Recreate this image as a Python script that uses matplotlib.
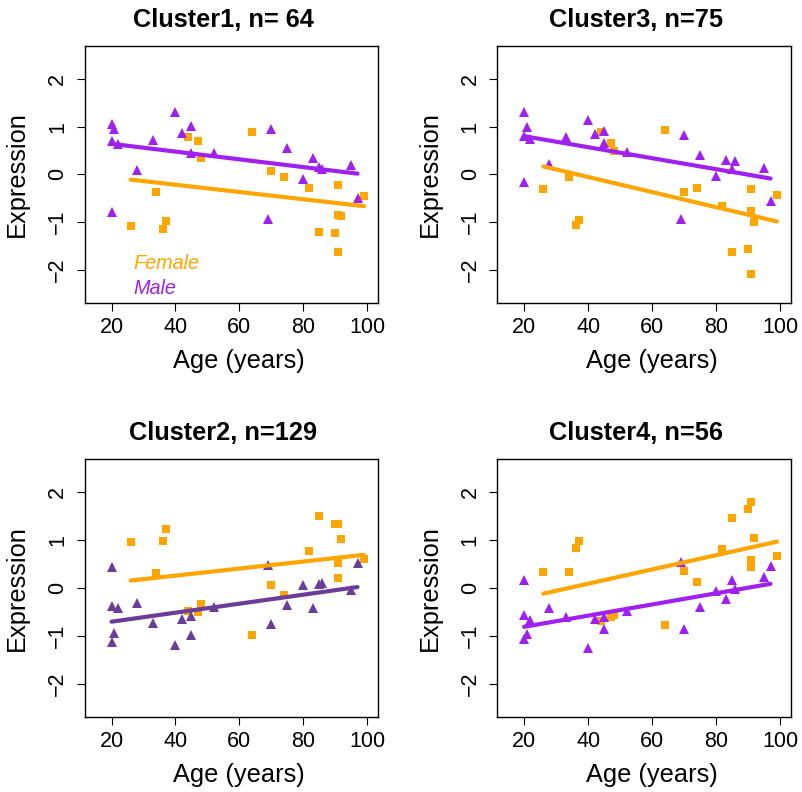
import matplotlib
matplotlib.use("Agg")
import matplotlib.pyplot as plt
import numpy as np

plt.rcParams['font.family'] = ['Liberation Sans', 'DejaVu Sans']

# ---- data ----
female_age = [26.0, 33.9, 36.2, 37.0, 44.0, 47.1, 48.0, 63.9, 69.9, 73.9, 81.9, 84.9,
              89.9, 90.9, 90.9, 90.9, 91.9, 99.0]
male_age = [20.0, 20.0, 20.0, 20.9, 21.9, 27.9, 33.0, 40.0, 42.0, 45.0, 45.0, 52.0,
            68.9, 70.0, 75.0, 80.0, 83.0, 85.0, 86.0, 95.0, 97.0]

c1_female = [-1.08, -0.37, -1.15, -0.97, 0.78, 0.69, 0.35, 0.88, 0.07, -0.06, -0.28, -1.22,
             -1.24, -0.22, -0.85, -1.62, -0.87, -0.45]
c1_male = [1.06, 0.69, -0.80, 0.95, 0.64, 0.10, 0.72, 1.31, 0.875, 1.02, 0.44, 0.44,
           -0.93, 0.95, 0.56, -0.10, 0.34, 0.15, 0.12, 0.20, -0.50]

c3_female = [-0.31, -0.05, -1.06, -0.95, 0.88, 0.65, 0.49, 0.94, -0.37, -0.28, -0.67, -1.64,
             -1.56, -0.31, -0.77, -2.10, -0.99, -0.44]
c3_male = [1.30, 0.81, -0.17, 1.00, 0.74, 0.21, 0.79, 1.14, 0.85, 0.92, 0.65, 0.47,
           -0.94, 0.83, 0.41, -0.04, 0.31, 0.11, 0.27, 0.14, -0.56]

c2_female = [0.96, 0.31, 0.98, 1.23, -0.48, -0.51, -0.33, -0.98, 0.07, -0.15, 0.77, 1.50,
             1.33, 1.34, 0.53, 0.21, 1.02, 0.60]
c2_male = [0.45, -0.375, -1.125, -0.95, -0.42, -0.31, -0.73, -1.19, -0.64, -0.58, -0.98, -0.39,
           0.49, -0.76, -0.35, 0.07, -0.42, 0.08, 0.11, -0.035, 0.52]

c4_female = [0.33, 0.33, 0.83, 0.98, -0.69, -0.60, -0.56, -0.78, 0.35, 0.125, 0.82, 1.46,
             1.65, 1.79, 0.59, 0.43, 1.04, 0.68]
c4_male = [0.17, -0.56, -1.07, -0.96, -0.67, -0.42, -0.60, -1.26, -0.65, -0.61, -0.86, -0.49,
           0.55, -0.85, -0.40, -0.06, -0.22, 0.17, -0.03, 0.22, 0.46]

# fitted lines (intercept, slope)
c1_fit_female = (0.087, -0.00762)
c1_fit_male = (0.803, -0.00813)
c3_fit_female = (0.578, -0.01583)
c3_fit_male = (1.031, -0.01153)
c2_fit_female = (-0.036, 0.00737)
c2_fit_male = (-0.893, 0.00941)
c4_fit_female = (-0.506, 0.01491)
c4_fit_male = (-1.046, 0.01169)

titles = ["Cluster1, n= 64", "Cluster3, n=75", "Cluster2, n=129", "Cluster4, n=56"]
x_ticks = [20, 40, 60, 80, 100]
y_ticks = [-2, -1, 0, 1, 2]

ORANGE = '#FFA500'
PURPLE = '#A020F0'
DARKPURPLE = '#6A3D9A'

W, H = 802, 792
fig = plt.figure(figsize=(W / 100, H / 100), dpi=100)

def fpos(left, top, right, bottom):
    return [left / W, 1 - bottom / H, (right - left) / W, (bottom - top) / H]

panels = [
    (fpos(84.7, 45.7, 378.0, 303.0), titles[0], c1_female, c1_male, c1_fit_female, c1_fit_male, PURPLE, True),
    (fpos(497.3, 45.7, 791.0, 303.0), titles[1], c3_female, c3_male, c3_fit_female, c3_fit_male, PURPLE, False),
    (fpos(84.7, 459.0, 378.0, 717.0), titles[2], c2_female, c2_male, c2_fit_female, c2_fit_male, DARKPURPLE, False),
    (fpos(497.3, 459.0, 791.0, 717.0), titles[3], c4_female, c4_male, c4_fit_female, c4_fit_male, PURPLE, False),
]

for pos, title, fem, mal, ffit, mfit, mcol, legend in panels:
    ax = fig.add_axes(pos)
    ax.plot(female_age, fem, linestyle='none', marker='s', ms=5.4, mew=0, color=ORANGE)
    ax.plot(male_age, mal, linestyle='none', marker='^', ms=7.0, mew=0, color=mcol)
    fx = np.array([min(female_age), max(female_age)])
    mx = np.array([min(male_age), max(male_age)])
    ax.plot(fx, ffit[0] + ffit[1] * fx, color=ORANGE, lw=3.0, solid_capstyle='round')
    ax.plot(mx, mfit[0] + mfit[1] * mx, color=mcol, lw=3.0, solid_capstyle='round')

    ax.set_xlim(11.6, 103.4)
    ax.set_ylim(-2.7, 2.7)
    ax.set_xticks(x_ticks)
    ax.set_yticks(y_ticks)
    ax.tick_params(direction='out', length=6, width=0.8, labelsize=15.5, color='black')
    ax.tick_params(axis='x', pad=4)
    ax.tick_params(axis='y', pad=6, labelrotation=90)
    for lab in ax.get_yticklabels():
        lab.set_va('center')
    for sp in ax.spines.values():
        sp.set_linewidth(1.0)
        sp.set_color('black')

    t = ax.set_title(title, fontsize=18.3, fontweight='bold', pad=13.5)
    t.set_x(0.473)
    ax.set_xlabel("Age (years)", fontsize=18.3)
    ax.set_ylabel("Expression", fontsize=18.3)
    ax.xaxis.set_label_coords(0.526, -0.178)
    ax.yaxis.set_label_coords(-0.19, 0.5)

    if legend:
        ax.text(0.165, 0.132, "Female", transform=ax.transAxes, fontsize=14.3,
                fontstyle='italic', color=ORANGE, ha='left', va='baseline')
        ax.text(0.165, 0.035, "Male", transform=ax.transAxes, fontsize=14.3,
                fontstyle='italic', color=PURPLE, ha='left', va='baseline')

fig.savefig("out.png", dpi=100)
